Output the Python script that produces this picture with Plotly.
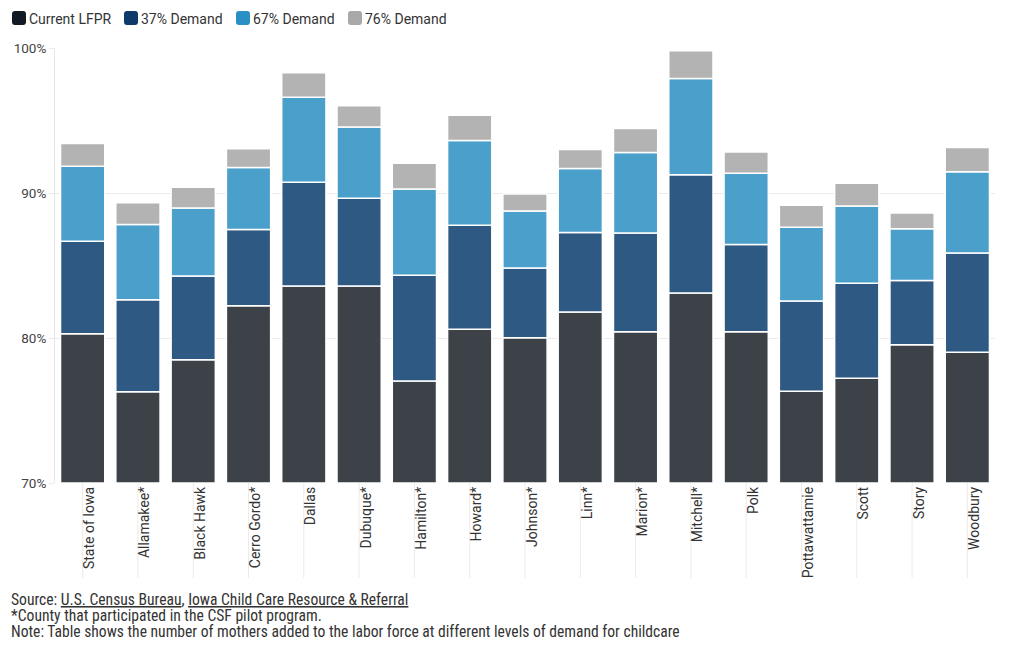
import plotly.graph_objects as go

counties = ["State of Iowa", "Allamakee*", "Black Hawk", "Cerro Gordo*", "Dallas", "Dubuque*",
            "Hamilton*", "Howard*", "Johnson*", "Linn*", "Marion*", "Mitchell*", "Polk",
            "Pottawattamie", "Scott", "Story", "Woodbury"]

# Labor force participation rate (%) at each level of childcare demand
current_lfpr = [80.29, 76.30, 78.50, 82.22, 83.59, 83.59, 77.03, 80.61, 80.01, 81.80, 80.43, 83.11, 80.43, 76.32, 77.22, 79.53, 79.01]
demand_37 = [86.67, 82.63, 84.28, 87.49, 90.75, 89.63, 84.33, 87.77, 84.83, 87.27, 87.24, 91.26, 86.44, 82.56, 83.78, 83.96, 85.87]
demand_67 = [91.85, 87.82, 88.96, 91.76, 96.60, 94.56, 90.27, 93.62, 88.76, 91.69, 92.80, 97.89, 91.37, 87.63, 89.10, 87.54, 91.47]
demand_76 = [93.41, 89.33, 90.39, 93.05, 98.30, 96.01, 92.06, 95.36, 89.93, 93.00, 94.45, 99.81, 92.82, 89.15, 90.68, 88.62, 93.14]

series_names = ["Current LFPR", "37% Demand", "67% Demand", "76% Demand"]
bar_colors = ["rgb(61,66,72)", "rgb(46,89,131)", "rgb(74,159,203)", "rgb(179,179,179)"]
legend_colors = ["rgb(18,26,36)", "rgb(13,58,107)", "rgb(42,143,196)", "rgb(168,168,168)"]

y_ticks = [70, 80, 90, 100]
y_tick_labels = ["70%", "80%", "90%", "100%"]

footer_lines = [
    "Source: <u>U.S. Census Bureau</u>, <u>Iowa Child Care Resource &amp; Referral</u>",
    "*County that participated in the CSF pilot program.",
    "Note: Table shows the number of mothers added to the labor force at different levels of demand for childcare",
]

levels = [current_lfpr, demand_37, demand_67, demand_76]
Y_MIN = 70

W, H = 1020, 650
ML, MR, MT, MB = 55, 25, 48, 167
plot_w = W - ML - MR
plot_h = H - MT - MB


def px_x(px):
    return (px - ML) / plot_w


def px_y(py):
    return (H - MB - py) / plot_h


fig = go.Figure()
prev = [Y_MIN] * len(counties)
for name, lvl, col in zip(series_names, levels, bar_colors):
    seg = [a - b for a, b in zip(lvl, prev)]
    fig.add_trace(go.Bar(
        x=counties, y=seg, base=prev, name=name, showlegend=False,
        marker=dict(color=col, line=dict(color="white", width=1.5)),
        customdata=lvl, hovertemplate="%{x}<br>" + name + ": %{customdata:.1f}%<extra></extra>",
    ))
    prev = lvl

# light separators below the axis at each category
for c in counties:
    fig.add_shape(type="line", xref="x", yref="paper", x0=c, x1=c, y0=0, y1=px_y(578),
                  line=dict(color="#ebebeb", width=1), layer="below")

annotations = []
# legend: rounded swatches + labels
for i, (name, col) in enumerate(zip(series_names, legend_colors)):
    x0p, x1p = 12 + 112 * i, 26 + 112 * i
    y0p, y1p = 11, 25
    r = 3
    path = (
        f"M {px_x(x0p + r)},{px_y(y0p)} L {px_x(x1p - r)},{px_y(y0p)} "
        f"Q {px_x(x1p)},{px_y(y0p)} {px_x(x1p)},{px_y(y0p + r)} "
        f"L {px_x(x1p)},{px_y(y1p - r)} Q {px_x(x1p)},{px_y(y1p)} {px_x(x1p - r)},{px_y(y1p)} "
        f"L {px_x(x0p + r)},{px_y(y1p)} Q {px_x(x0p)},{px_y(y1p)} {px_x(x0p)},{px_y(y1p - r)} "
        f"L {px_x(x0p)},{px_y(y0p + r)} Q {px_x(x0p)},{px_y(y0p)} {px_x(x0p + r)},{px_y(y0p)} Z"
    )
    fig.add_shape(type="path", xref="paper", yref="paper", path=path,
                  fillcolor=col, line=dict(width=0))
    annotations.append(dict(
        xref="paper", yref="paper", x=px_x(27 + 112 * i), y=px_y(18.5),
        xanchor="left", yanchor="middle", showarrow=False,
        font=dict(family="Roboto, sans-serif", size=14, color="#333"), text=name,
    ))

for i, line in enumerate(footer_lines):
    annotations.append(dict(
        xref="paper", yref="paper", x=px_x(9), y=px_y(600 + 16 * i),
        xanchor="left", yanchor="middle", align="left", showarrow=False,
        font=dict(family="Roboto Condensed, Liberation Sans Narrow, Roboto, sans-serif", size=15.6, color="#333"),
        text=line,
    ))

fig.update_layout(
    width=W, height=H,
    margin=dict(l=ML, r=MR, t=MT, b=MB, autoexpand=False),
    paper_bgcolor="white", plot_bgcolor="white",
    barmode="overlay", bargap=0.2, showlegend=False,
    font=dict(family="Roboto, sans-serif", size=13, color="#333"),
    xaxis=dict(type="category", tickangle=-90, ticklabelshift=7, showgrid=False,
               tickfont=dict(size=14, color="#333"), showline=False, ticks=""),
    yaxis=dict(range=[Y_MIN, 100], tickvals=y_ticks, ticktext=y_tick_labels,
               gridcolor="#ebebeb", showline=True, linecolor="#e6e6e6", linewidth=1,
               ticks="outside", ticklen=5, tickcolor="#ebebeb",
               tickfont=dict(size=13.5, color="#444"), zeroline=False),
    annotations=annotations,
)

fig.write_html("out.html")
